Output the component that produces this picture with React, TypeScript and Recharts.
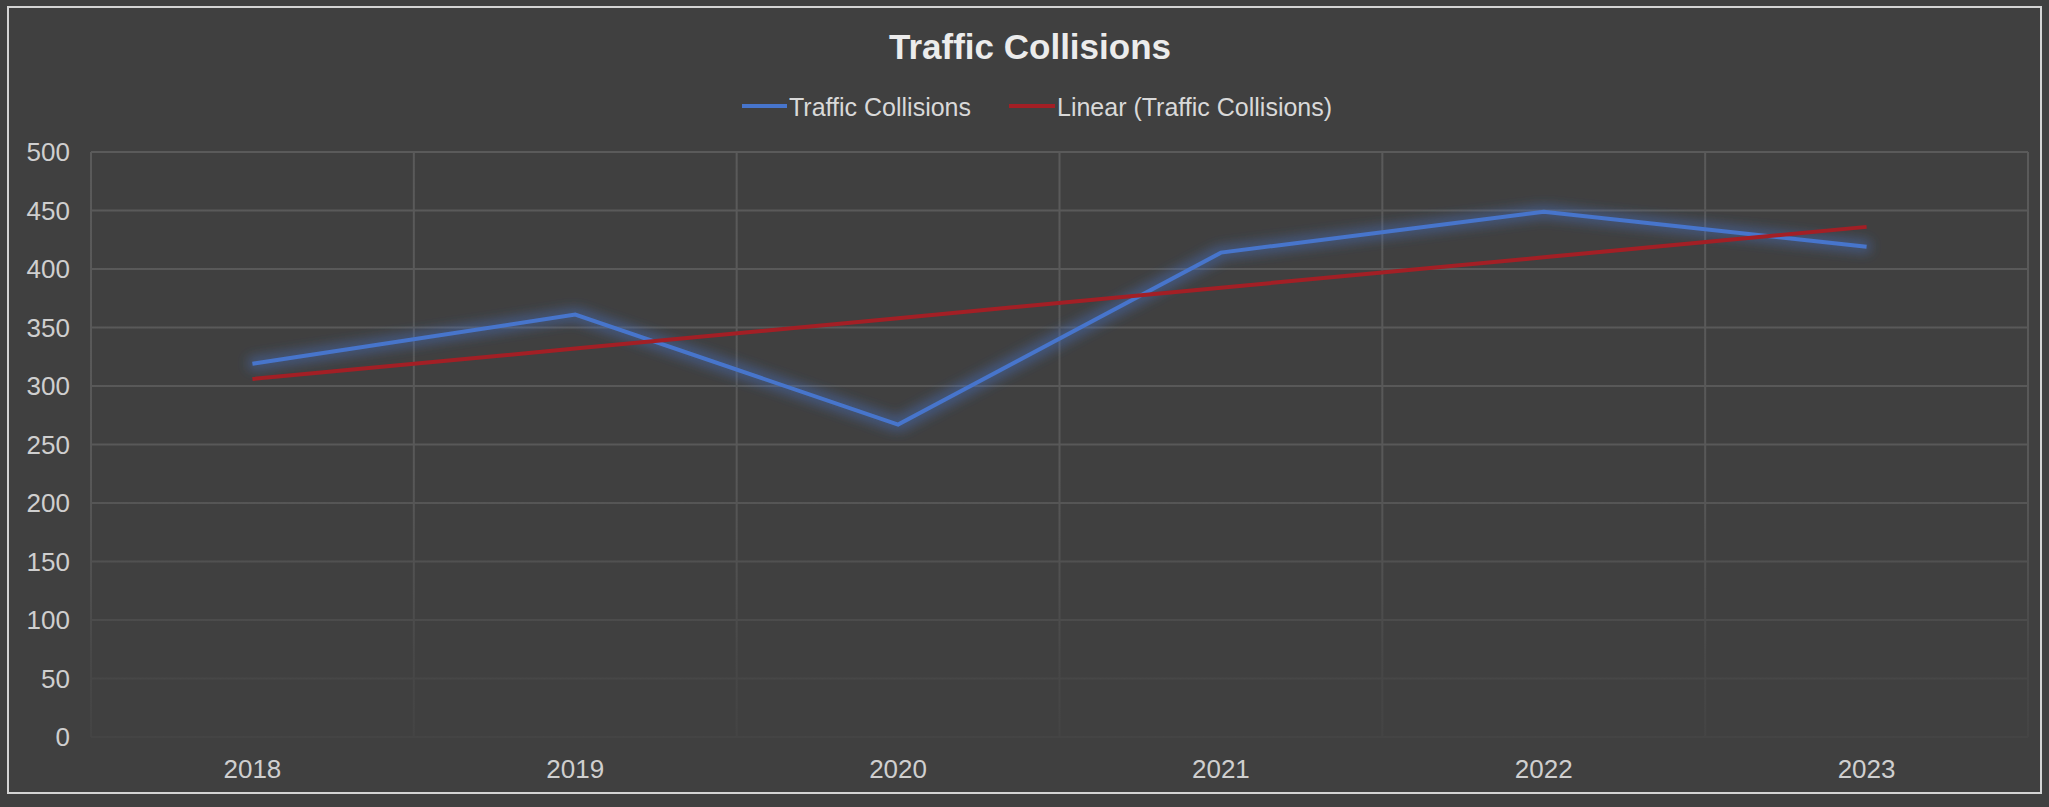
import React from 'react';
import { LineChart, Line, XAxis, YAxis, CartesianGrid } from 'recharts';

const years = ['2018', '2019', '2020', '2021', '2022', '2023'];
const collisions = [319, 361, 267, 414, 449, 419];
const trend = [306, 332, 358, 384, 410, 436];
const yTicks = [0, 50, 100, 150, 200, 250, 300, 350, 400, 450, 500];

const data = years.map((year, i) => ({
  year,
  idx: i,
  collisions: collisions[i],
  trend: trend[i],
}));

const catTicks = years.map((_, i) => i);
const gridTicks = years.map((_, i) => i - 0.5).concat(years.length - 0.5);

const W = 2049;
const H = 807;
const FONT = '"Liberation Sans", Arial, sans-serif';
const BLUE = '#4775CC';
const RED = '#A31F25';

export default function App() {
  return (
    <div style={{ position: 'absolute', left: 0, top: 0, width: W, height: H, background: '#404040', overflow: 'hidden' }}>
      <style>{`.glow-line { filter: url(#blueGlow); }`}</style>
      <div
        style={{
          position: 'absolute',
          left: 7,
          top: 6,
          width: 2035,
          height: 788,
          border: '2px solid #d4d4d4',
          boxSizing: 'border-box',
        }}
      />
      <svg width={W} height={H} style={{ position: 'absolute', left: 0, top: 0 }}>
        <defs>
          <linearGradient id="gridGrad" gradientUnits="userSpaceOnUse" x1="0" y1="152" x2="0" y2="737">
            <stop offset="0" stopColor="#5a5a5a" />
            <stop offset="0.55" stopColor="#585858" />
            <stop offset="0.75" stopColor="#4f4f4f" />
            <stop offset="0.86" stopColor="#484848" />
            <stop offset="1" stopColor="#444444" />
          </linearGradient>
          <filter id="blueGlow" filterUnits="userSpaceOnUse" x="0" y="0" width={W} height={H}>
            <feMorphology in="SourceGraphic" operator="dilate" radius="4" result="d" />
            <feGaussianBlur in="d" stdDeviation="6" result="b" />
            <feComponentTransfer in="b" result="g">
              <feFuncA type="linear" slope="0.45" />
            </feComponentTransfer>
            <feMerge>
              <feMergeNode in="g" />
              <feMergeNode in="SourceGraphic" />
            </feMerge>
          </filter>
        </defs>
        <text x={1030} y={59} textAnchor="middle" fill="#ececec" fontFamily={FONT} fontSize={35} fontWeight="bold">
          Traffic Collisions
        </text>
        <line x1={742} y1={106} x2={787} y2={106} stroke={BLUE} strokeWidth={4} />
        <text x={789} y={116} fill="#d9d9d9" fontFamily={FONT} fontSize={25}>
          Traffic Collisions
        </text>
        <line x1={1009} y1={106} x2={1055} y2={106} stroke={RED} strokeWidth={4} />
        <text x={1057} y={116} fill="#d9d9d9" fontFamily={FONT} fontSize={25}>
          Linear (Traffic Collisions)
        </text>
      </svg>
      <div style={{ position: 'absolute', left: 0, top: 0 }}>
        <LineChart width={W} height={H} data={data} margin={{ top: 152, right: 21, bottom: 0, left: 0 }}>
          <XAxis
            xAxisId="grid"
            type="number"
            dataKey="idx"
            domain={[-0.5, years.length - 0.5]}
            ticks={gridTicks}
            allowDataOverflow
            hide
          />
          <XAxis
            dataKey="idx"
            type="number"
            domain={[-0.5, years.length - 0.5]}
            ticks={catTicks}
            allowDataOverflow
            tickFormatter={(v: number) => years[v] ?? ''}
            axisLine={false}
            tickLine={false}
            tickSize={0}
            tickMargin={23}
            height={70}
            interval={0}
            tick={{ fill: '#cfcfcf', fontSize: 26, fontFamily: FONT }}
          />
          <YAxis
            domain={[0, 500]}
            ticks={yTicks}
            axisLine={false}
            tickLine={false}
            tickSize={0}
            tickMargin={21}
            width={91}
            interval={0}
            tick={{ fill: '#cfcfcf', fontSize: 26, fontFamily: FONT }}
          />
          <CartesianGrid xAxisId="grid" stroke="url(#gridGrad)" strokeWidth={2} />
          <Line
            dataKey="collisions"
            stroke={BLUE}
            strokeWidth={4}
            dot={false}
            activeDot={false}
            className="glow-line"
            isAnimationActive={false}
          />
          <Line
            dataKey="trend"
            stroke={RED}
            strokeWidth={4}
            dot={false}
            activeDot={false}
            isAnimationActive={false}
          />
        </LineChart>
      </div>
    </div>
  );
}
